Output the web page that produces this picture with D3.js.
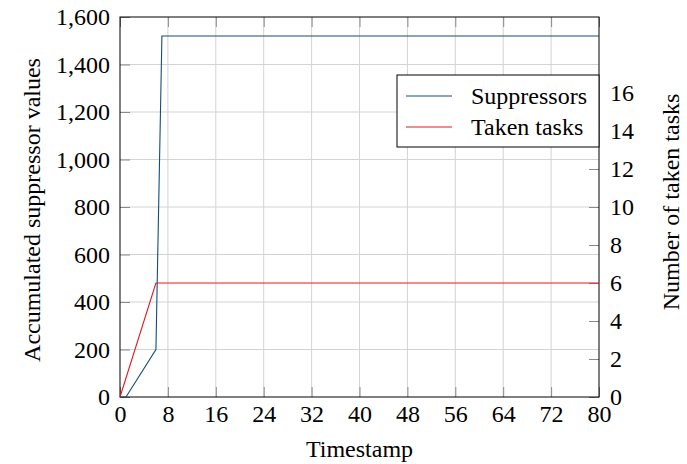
<!DOCTYPE html>
<html>
<head>
<meta charset="utf-8">
<script src="https://cdn.jsdelivr.net/npm/d3@7"></script>
</head>
<body style="margin:0">
<svg id="chart" width="687" height="464" font-family="Liberation Serif" font-size="24"></svg>
<script>
// data
const suppressorTime = [0, 1, 6, 7, 80];
const suppressorValues = [0, 0, 200, 1520, 1520];
const tasksTime = [0, 6, 80];
const tasksValues = [0, 6, 6];

const xTicks = d3.range(0, 81, 8);
const leftTicks = d3.range(0, 1601, 200);
const rightTicks = d3.range(0, 17, 2);

const seriesNames = ["Suppressors", "Taken tasks"];
const seriesColors = ["#164b7a", "#e3191c"];

const FONT = "Liberation Serif";

const margin = { left: 120, right: 88, top: 17, bottom: 67 };
const W = 687, H = 464;
const innerW = W - margin.left - margin.right;
const innerH = H - margin.top - margin.bottom;

const svg = d3.select("#chart");
const g = svg.append("g").attr("transform", `translate(${margin.left},${margin.top})`);

const x = d3.scaleLinear().domain([0, 80]).range([0, innerW]);
const yL = d3.scaleLinear().domain([0, 1600]).range([innerH, 0]);
const yR = d3.scaleLinear().domain([0, 20]).range([innerH, 0]);

// grid
g.append("g").selectAll("line").data(xTicks.slice(1, -1)).join("line")
  .attr("x1", d => x(d)).attr("x2", d => x(d))
  .attr("y1", 0).attr("y2", innerH)
  .attr("stroke", "#d3d3d3").attr("stroke-width", 1);
g.append("g").selectAll("line").data(leftTicks.slice(1, -1)).join("line")
  .attr("x1", 0).attr("x2", innerW)
  .attr("y1", d => yL(d)).attr("y2", d => yL(d))
  .attr("stroke", "#d3d3d3").attr("stroke-width", 1);

// axes with inward ticks
const tickLen = 10;
function styleAxis(sel) {
  sel.select(".domain").remove();
  sel.attr("font-family", FONT).attr("font-size", 24);
  sel.selectAll(".tick line").attr("stroke", "#8a8a8a").attr("stroke-width", 1);
  sel.selectAll(".tick text").attr("fill", "#000");
}

g.append("g").attr("transform", `translate(0,${innerH})`)
  .call(d3.axisBottom(x).tickValues(xTicks).tickSizeInner(-tickLen).tickSizeOuter(0).tickPadding(8))
  .call(styleAxis)
  .call(s => s.selectAll(".tick text").attr("dy", "0.71em"));

g.append("g")
  .call(d3.axisTop(x).tickValues(xTicks).tickSizeInner(-tickLen).tickSizeOuter(0).tickFormat(""))
  .call(styleAxis);

g.append("g")
  .call(d3.axisLeft(yL).tickValues(leftTicks).tickSizeInner(-tickLen).tickSizeOuter(0)
    .tickFormat(d3.format(",")).tickPadding(10))
  .call(styleAxis);

g.append("g").attr("transform", `translate(${innerW},0)`)
  .call(d3.axisRight(yR).tickValues(rightTicks).tickSizeInner(-tickLen).tickSizeOuter(0).tickPadding(11))
  .call(styleAxis);

// frame
g.append("rect").attr("width", innerW).attr("height", innerH)
  .attr("fill", "none").attr("stroke", "#000").attr("stroke-width", 1);

// lines
const supData = suppressorTime.map((t, i) => [t, suppressorValues[i]]);
const taskData = tasksTime.map((t, i) => [t, tasksValues[i]]);

g.append("path").datum(supData)
  .attr("fill", "none").attr("stroke", seriesColors[0]).attr("stroke-width", 1.1)
  .attr("d", d3.line().x(d => x(d[0])).y(d => yL(d[1])));
g.append("path").datum(taskData)
  .attr("fill", "none").attr("stroke", seriesColors[1]).attr("stroke-width", 1.1)
  .attr("d", d3.line().x(d => x(d[0])).y(d => yR(d[1])));

// legend
const lg = g.append("g").attr("transform", `translate(${innerW - 202},${58})`);
lg.append("rect").attr("width", 202).attr("height", 72)
  .attr("fill", "#fff").attr("stroke", "#000").attr("stroke-width", 1);
seriesNames.forEach((name, i) => {
  const yy = 21 + i * 31;
  lg.append("line").attr("x1", 9).attr("x2", 55).attr("y1", yy).attr("y2", yy)
    .attr("stroke", seriesColors[i]).attr("stroke-width", 1.1);
  lg.append("text").attr("x", 74).attr("y", yy).attr("dy", "0.33em").text(name);
});

// axis labels
svg.append("text").attr("x", margin.left + innerW / 2).attr("y", 457)
  .attr("text-anchor", "middle").text("Timestamp");

svg.append("text").attr("transform", `translate(40,${margin.top + innerH / 2 + 3}) rotate(-90)`)
  .attr("text-anchor", "middle").text("Accumulated suppressor values");

svg.append("text").attr("transform", `translate(679,${margin.top + innerH / 2 - 5}) rotate(-90)`)
  .attr("text-anchor", "middle").text("Number of taken tasks");

svg.selectAll("text").attr("font-family", FONT).attr("font-size", 24);
</script>
</body>
</html>
